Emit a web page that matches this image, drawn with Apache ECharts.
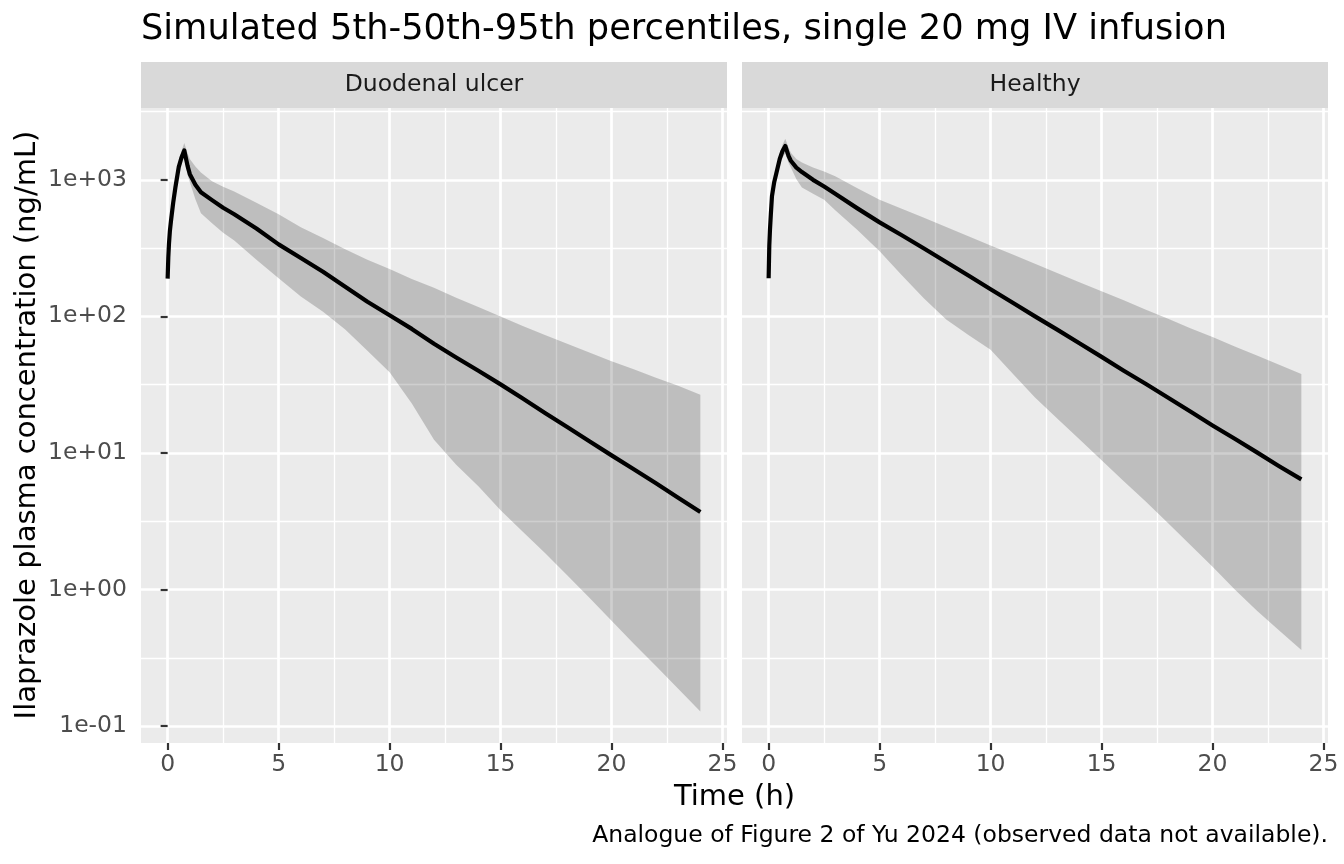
<!DOCTYPE html>
<html>
<head>
<meta charset="utf-8">
<title>Ilaprazole percentiles</title>
<script src="https://cdn.jsdelivr.net/npm/echarts@6.0.0/dist/echarts.min.js"></script>
<style>
  html, body { margin: 0; padding: 0; background: #fff; }
  #chart { width: 1344px; height: 864px; }
</style>
</head>
<body>
<div id="chart"></div>
<script>
// time grid (h)
var times = [0, 0.03, 0.06, 0.1, 0.15, 0.25, 0.35, 0.5, 0.62, 0.75, 0.9, 1, 1.25, 1.5, 2, 2.5, 3,
  4, 5, 6, 7, 8, 9, 10, 11, 12, 13, 14, 15, 16, 17, 18, 19, 20, 21, 22, 23, 24];

// Duodenal ulcer: 5th / 50th / 95th percentiles (ng/mL)
var duP5 = [183, 260, 325, 400, 475, 640, 820, 1130, 1300, 1450, 1080, 960, 720, 570, 480, 410, 360,
  260, 190, 140, 108, 80, 56, 39, 23, 12.5, 8.2, 5.7, 3.8, 2.65, 1.85, 1.27, 0.87, 0.59, 0.40, 0.275, 0.188, 0.128];
var duP50 = [189, 270, 340, 420, 500, 680, 880, 1240, 1450, 1640, 1260, 1100, 920, 810, 710, 625, 560,
  440, 337, 268, 212, 165, 128, 102, 81, 63, 50, 40, 31.8, 25, 19.6, 15.5, 12.2, 9.6, 7.6, 6.0, 4.7, 3.7];
var duP95 = [195, 280, 355, 440, 525, 720, 940, 1350, 1620, 1860, 1560, 1420, 1250, 1130, 975, 890, 820,
  680, 560, 450, 375, 310, 260, 222, 188, 162, 137, 117, 100, 85, 73, 63, 54.5, 47, 41, 35.5, 31, 26.7];

// Healthy: 5th / 50th / 95th percentiles (ng/mL)
var hP5 = [183, 315, 410, 530, 720, 910, 1060, 1300, 1450, 1560, 1330, 1230, 1010, 880, 790, 714, 600,
  430, 300, 200, 135, 95, 73, 57, 38, 25.5, 17.9, 12.6, 8.85, 6.2, 4.4, 3.05, 2.12, 1.47, 1.0, 0.7, 0.5, 0.36];
var hP50 = [190, 330, 430, 560, 760, 960, 1120, 1420, 1620, 1770, 1490, 1380, 1230, 1140, 1000, 893, 790,
  618, 488, 393, 314, 250, 199, 158, 126, 100, 80, 63.5, 50.5, 40, 32, 25.4, 20.1, 15.9, 12.7, 10.1, 8.0, 6.4];
var hP95 = [200, 345, 450, 590, 800, 1010, 1190, 1560, 1800, 2000, 1720, 1580, 1420, 1340, 1230, 1150, 1060,
  867, 714, 615, 527, 452, 387, 331, 284, 243, 208, 178, 153, 131, 112, 96, 82, 70.5, 60.3, 51.7, 44.3, 37.8];

var panels = ['Duodenal ulcer', 'Healthy'];

// axis breaks
var xTicks = [0, 5, 10, 15, 20, 25];
var xMinor = [2.5, 7.5, 12.5, 17.5, 22.5];
var yTicks = [0.1, 1, 10, 100, 1000];
var yMinor = [0.316227766, 3.16227766, 31.6227766, 316.227766, 3162.27766];

var FONT = 'DejaVu Sans';
var X_MIN = -1.2, X_MAX = 25.2;
var Y_MIN = Math.pow(10, -1.124), Y_MAX = Math.pow(10, 3.526);

var grids = [
  { left: 141, top: 108, width: 586, height: 635, show: true, backgroundColor: '#EBEBEB', borderWidth: 0 },
  { left: 742, top: 108, width: 586, height: 635, show: true, backgroundColor: '#EBEBEB', borderWidth: 0 }
];

function sciLabel(v) {
  var e = Math.round(Math.log10(v));
  var s = String(Math.abs(e));
  if (s.length < 2) s = '0' + s;
  return '1e' + (e < 0 ? '-' : '+') + s;
}

var xAxes = [];
var yAxes = [];
for (var g = 0; g < 2; g++) {
  xAxes.push({
    gridIndex: g, type: 'value', min: X_MIN, max: X_MAX, position: 'bottom',
    axisLine: { show: false },
    axisTick: { show: true, length: 7, customValues: xTicks, lineStyle: { color: '#333333', width: 2.2 } },
    axisLabel: { customValues: xTicks, fontFamily: FONT, fontSize: 23.5, color: '#4D4D4D', margin: 10 },
    splitLine: { show: true, lineStyle: { color: '#FFFFFF', width: 2.7 } }
  });
  // minor x gridlines
  xAxes.push({
    gridIndex: g, type: 'value', min: X_MIN, max: X_MAX, position: 'top',
    axisLine: { show: false },
    axisTick: { show: false, customValues: xMinor },
    axisLabel: { show: false, customValues: xMinor },
    splitLine: { show: true, lineStyle: { color: '#FFFFFF', width: 1.35 } }
  });
  yAxes.push({
    gridIndex: g, type: 'log', logBase: 10, min: Y_MIN, max: Y_MAX, position: 'left',
    axisLine: { show: false },
    axisTick: { show: g === 0, length: 7, customValues: yTicks, lineStyle: { color: '#333333', width: 2.2 } },
    axisLabel: { show: g === 0, customValues: yTicks, formatter: sciLabel, fontFamily: FONT, fontSize: 23.5, color: '#4D4D4D', margin: 14 },
    splitLine: { show: true, lineStyle: { color: '#FFFFFF', width: 2.7 } }
  });
  // minor y gridlines (half decades)
  yAxes.push({
    gridIndex: g, type: 'log', logBase: 10, min: Y_MIN, max: Y_MAX, position: 'right',
    axisLine: { show: false },
    axisTick: { show: false, customValues: yMinor },
    axisLabel: { show: false, customValues: yMinor },
    splitLine: { show: true, lineStyle: { color: '#FFFFFF', width: 1.35 } }
  });
}

function bandSeries(g, lo, hi) {
  var rows = times.map(function (t, i) { return [t, lo[i], hi[i]]; });
  return {
    type: 'custom',
    xAxisIndex: g * 2,
    yAxisIndex: g * 2,
    silent: true,
    z: 2,
    data: rows,
    encode: { x: 0, y: [1, 2] },
    renderItem: function (params, api) {
      if (params.dataIndex !== 0) return null;
      var pts = [];
      for (var i = 0; i < rows.length; i++) pts.push(api.coord([rows[i][0], rows[i][2]]));
      for (var j = rows.length - 1; j >= 0; j--) pts.push(api.coord([rows[j][0], rows[j][1]]));
      return { type: 'polygon', shape: { points: pts }, style: { fill: 'rgba(0,0,0,0.19)' } };
    }
  };
}

function medianSeries(g, mid) {
  return {
    type: 'line',
    xAxisIndex: g * 2,
    yAxisIndex: g * 2,
    showSymbol: false,
    silent: true,
    z: 3,
    data: times.map(function (t, i) { return [t, mid[i]]; }),
    lineStyle: { color: '#000000', width: 4.2, join: 'round', cap: 'butt' }
  };
}

var graphics = [
  { type: 'text', x: 141, y: 30, style: { text: 'Simulated 5th-50th-95th percentiles, single 20 mg IV infusion', fontFamily: FONT, fontSize: 35.2, fill: '#000000', align: 'left', verticalAlign: 'middle' } },
  { type: 'text', x: 27, y: 425, rotation: Math.PI / 2, style: { text: 'Ilaprazole plasma concentration (ng/mL)', fontFamily: FONT, fontSize: 29, fill: '#000000', align: 'center', verticalAlign: 'middle' } },
  { type: 'text', x: 734.5, y: 797, style: { text: 'Time (h)', fontFamily: FONT, fontSize: 29, fill: '#000000', align: 'center', verticalAlign: 'middle' } },
  { type: 'text', x: 1328, y: 836, style: { text: 'Analogue of Figure 2 of Yu 2024 (observed data not available).', fontFamily: FONT, fontSize: 23.5, fill: '#000000', align: 'right', verticalAlign: 'middle' } }
];
for (var p = 0; p < panels.length; p++) {
  var gr = grids[p];
  graphics.push({ type: 'rect', shape: { x: gr.left, y: 62, width: gr.width, height: 46 }, style: { fill: '#D9D9D9' } });
  graphics.push({ type: 'text', x: gr.left + gr.width / 2, y: 85, style: { text: panels[p], fontFamily: FONT, fontSize: 23.5, fill: '#1A1A1A', align: 'center', verticalAlign: 'middle' } });
}

var chart = echarts.init(document.getElementById('chart'), null, { renderer: 'canvas' });
chart.setOption({
  animation: false,
  backgroundColor: '#FFFFFF',
  grid: grids,
  xAxis: xAxes,
  yAxis: yAxes,
  graphic: graphics,
  series: [
    bandSeries(0, duP5, duP95),
    medianSeries(0, duP50),
    bandSeries(1, hP5, hP95),
    medianSeries(1, hP50)
  ]
});
</script>
</body>
</html>
